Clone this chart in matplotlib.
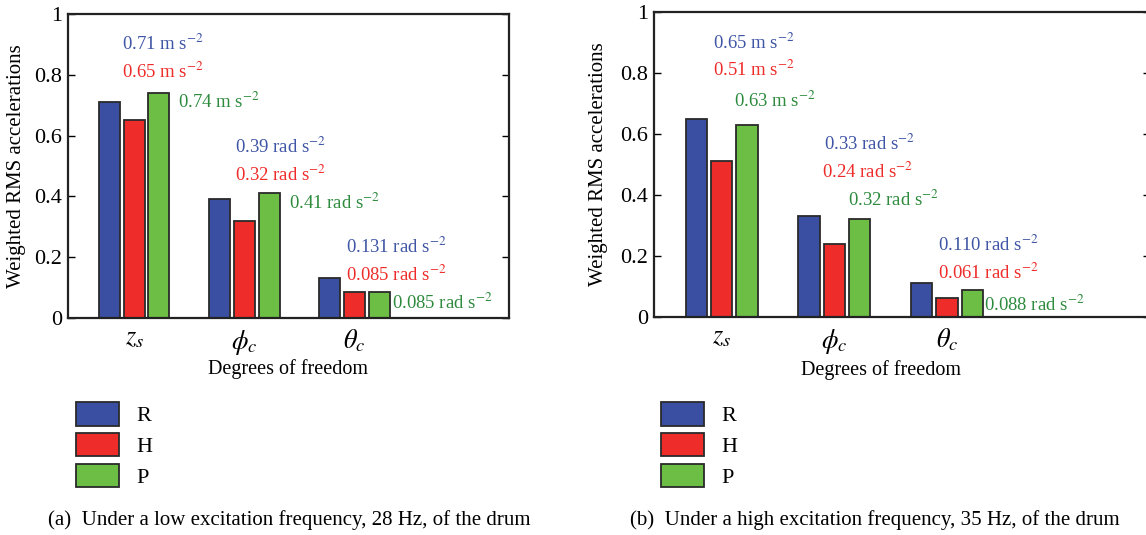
import matplotlib
matplotlib.use("Agg")
import matplotlib.pyplot as plt
from matplotlib.ticker import FuncFormatter

plt.rcParams['font.family'] = ['Liberation Serif', 'DejaVu Serif']
plt.rcParams['mathtext.fontset'] = 'stix'

# ---------------- data ----------------
categories = ['$z_s$', '$\\phi_c$', '$\\theta_c$']
series_names = ['R', 'H', 'P']
units = ['m', 'rad', 'rad']
decimals = [2, 2, 3]

low_R = [0.71, 0.39, 0.131]
low_H = [0.65, 0.32, 0.085]
low_P = [0.74, 0.41, 0.085]

high_R = [0.65, 0.33, 0.110]
high_H = [0.51, 0.24, 0.061]
high_P = [0.63, 0.32, 0.088]

yticks = [0, 0.2, 0.4, 0.6, 0.8, 1]
captions = ['(a)  Under a low excitation frequency, 28 Hz, of the drum',
            '(b)  Under a high excitation frequency, 35 Hz, of the drum']

# ---------------- style / layout ----------------
bar_colors = ['#3A4FA1', '#EE2C2A', '#6CBE45']
text_colors = ['#3F55A5', '#EE2C2A', '#2E8B3E']
offsets = [-0.225, 0.0, 0.225]
bar_width = 0.19

# label positions (x, baseline y) per series per category
low_label_pos = [
    [(0.89, 0.88), (1.914, 0.543), (2.918, 0.214)],
    [(0.89, 0.79), (1.914, 0.45), (2.918, 0.121)],
    [(1.40, 0.69), (2.405, 0.358), (3.336, 0.029)],
]
high_label_pos = [
    [(0.92, 0.88), (1.907, 0.547), (2.916, 0.216)],
    [(0.92, 0.79), (1.89, 0.455), (2.916, 0.124)],
    [(1.106, 0.69), (2.12, 0.364), (3.33, 0.019)],
]

W, H = 1146, 535
fig = plt.figure(figsize=(W / 100, H / 100), dpi=100)


def px_axes(l, t, r, b):
    return fig.add_axes([l / W, 1 - b / H, (r - l) / W, (b - t) / H])


def fmt(v, _):
    return '%g' % v


def draw_panel(ax, data, label_pos, xlim, ylabel_x, xlabel_xy, legend_xy, caption, cap_x):
    xs = [1, 2, 3]
    handles = []
    for i, vals in enumerate(data):
        h = ax.bar([x + offsets[i] for x in xs], vals, width=bar_width,
                   color=bar_colors[i], edgecolor='#2a2a2a', linewidth=1.3,
                   label=series_names[i], zorder=2)
        handles.append(h)
        for j, v in enumerate(vals):
            s = ('%.*f' % (decimals[j], v)) + ' ' + units[j] + ' s$^{-2}$'
            px, py = label_pos[i][j]
            ax.text(px, py, s, color=text_colors[i], fontsize=13.5,
                    ha='left', va='baseline')
    ax.set_xlim(*xlim)
    ax.set_ylim(0, 1)
    ax.set_yticks(yticks)
    ax.yaxis.set_major_formatter(FuncFormatter(fmt))
    ax.set_xticks(xs)
    ax.set_xticklabels(categories, fontsize=19)
    ax.tick_params(axis='x', length=0, pad=7)
    ax.tick_params(axis='y', direction='in', length=5, width=1.0,
                   right=True, labelsize=16, pad=4)
    for sp in ax.spines.values():
        sp.set_linewidth(1.6)
        sp.set_color('#222222')
    ax.set_ylabel('Weighted RMS accelerations', fontsize=15)
    ax.yaxis.set_label_coords(ylabel_x, 0.5)
    ax.set_xlabel('Degrees of freedom', fontsize=14.5)
    ax.xaxis.set_label_coords(*xlabel_xy)
    fig.legend(handles=handles, labels=series_names, loc='upper left',
               bbox_to_anchor=legend_xy, frameon=False, fontsize=16,
               handlelength=1.95, handleheight=1.25, handletextpad=0.75,
               labelspacing=0.3, borderpad=0, borderaxespad=0)
    fig.text(cap_x, 1 - 520 / H, caption, fontsize=15, ha='left', va='center')


ax1 = px_axes(68, 14, 509, 318)
draw_panel(ax1, [low_R, low_H, low_P], low_label_pos, (0.4, 4.4), -0.095,
           (0.5, -0.135), (76 / W, 1 - 402 / H), captions[0], 48 / W)

ax2 = px_axes(654, 12, 1150, 317)
draw_panel(ax2, [high_R, high_H, high_P], high_label_pos, (0.4, 4.8), -0.093,
           (0.457, -0.141), (661 / W, 1 - 402 / H), captions[1], 630 / W)

fig.savefig('out.png', dpi=100)
